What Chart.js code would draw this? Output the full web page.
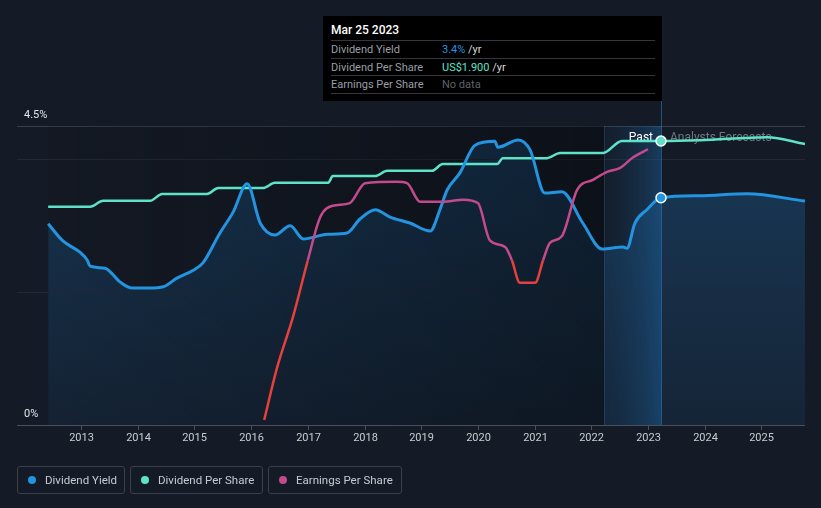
<!DOCTYPE html>
<html>
<head>
<meta charset="utf-8">
<script src="https://cdn.jsdelivr.net/npm/chart.js@4.4.0/dist/chart.umd.min.js"></script>
<style>
  body { margin: 0; background: #151b26; font-family: Roboto, "Noto Sans", sans-serif; }
  #wrap { position: relative; width: 821px; height: 508px; overflow: hidden; }
  #chart { position: absolute; left: 0; top: 0; }
  #tip { position: absolute; left: 323px; top: 16px; width: 339px; height: 85px; background: #000; }
  #tip .t { position: absolute; left: 8px; top: 7px; color: #fff; font-size: 12px; font-weight: 500; }
  #tip .r { position: absolute; left: 8px; width: 324px; height: 17px; border-top: 1px solid #33363c; font-size: 11px; line-height: 17px; color: #9a9fa6; }
  #tip .r .v { position: absolute; left: 111px; top: 0; color: #d8d8d8; }
  #legend { position: absolute; top: 466px; left: 17px; }
  .lg { position: absolute; top: 0; height: 26px; box-sizing: border-box; height: 28px; border: 1px solid #3b414b; border-radius: 3px; display: flex; align-items: center; padding-left: 10px; color: #c7cbd1; font-size: 11.5px; white-space: nowrap; }
  .lg i { width: 8px; height: 8px; border-radius: 50%; display: inline-block; margin-right: 9px; flex: none; }
</style>
</head>
<body>
<div id="wrap">
  <canvas id="chart" width="821" height="508"></canvas>
  <div id="tip">
    <div class="t">Mar 25 2023</div>
    <div class="r" style="top:24px">Dividend Yield<span class="v"><span style="color:#2394e0">3.4%</span> /yr</span></div>
    <div class="r" style="top:42px">Dividend Per Share<span class="v"><span style="color:#5ee3c9">US$1.900</span> /yr</span></div>
    <div class="r" style="top:59px;border-bottom:1px solid #33363c">Earnings Per Share<span class="v" style="color:#5f636a">No data</span></div>
  </div>
  <div id="legend">
    <div class="lg" style="left:0;width:108px"><i style="background:#2394e0"></i>Dividend Yield</div>
    <div class="lg" style="left:113px;width:133px"><i style="background:#5ee3c9"></i>Dividend Per Share</div>
    <div class="lg" style="left:251px;width:134px"><i style="background:#c44a8e"></i>Earnings Per Share</div>
  </div>
</div>
<script>
// Dividend yield (%), past and forecast
const yieldYears = [2012.42, 2012.68, 2012.98, 2013.11, 2013.16, 2013.42, 2013.69, 2013.90, 2014.22, 2014.45, 2014.69, 2014.98,
  2015.15, 2015.45, 2015.68, 2015.93, 2016.16, 2016.42, 2016.69, 2016.92, 2017.34, 2017.69, 2017.92, 2018.19, 2018.45,
  2018.80, 2019.16, 2019.33, 2019.46, 2019.68, 2019.95, 2020.30, 2020.35, 2020.71, 2020.92, 2021.18, 2021.48, 2021.85,
  2022.19, 2022.56, 2022.63, 2022.77, 2022.98, 2023.23, 2023.92, 2024.75, 2025.77];
const yieldValues = [3.03, 2.77, 2.60, 2.48, 2.39, 2.36, 2.15, 2.06, 2.06, 2.08, 2.21, 2.33,
  2.44, 2.89, 3.20, 3.63, 3.04, 2.86, 3.00, 2.80, 2.87, 2.89, 3.10, 3.24, 3.13,
  3.04, 2.92, 3.24, 3.54, 3.79, 4.21, 4.27, 4.18, 4.29, 4.14, 3.49, 3.51, 3.04,
  2.65, 2.68, 2.66, 3.04, 3.24, 3.42, 3.45, 3.48, 3.37];

// Dividend per share (US$)
const dpsYears = [2012.42, 2013.16, 2013.39, 2014.22, 2014.43, 2015.22, 2015.42, 2016.21, 2016.42, 2017.36, 2017.44,
  2018.19, 2018.40, 2019.19, 2019.38, 2020.34, 2020.44, 2021.22, 2021.45, 2022.21, 2022.54, 2023.23, 2023.92, 2025.10, 2025.77];
const dpsValues = [1.46, 1.46, 1.50, 1.50, 1.545, 1.545, 1.585, 1.585, 1.62, 1.62, 1.665,
  1.665, 1.70, 1.70, 1.745, 1.745, 1.785, 1.785, 1.82, 1.82, 1.90, 1.90, 1.905, 1.925, 1.88];

// Earnings per share (chart units)
const epsYears = [2016.23, 2016.46, 2016.74, 2017.00, 2017.22, 2017.44, 2017.74, 2018.01, 2018.57, 2018.75, 2018.98,
  2019.38, 2019.74, 2020.00, 2020.21, 2020.48, 2020.60, 2020.74, 2021.01, 2021.15, 2021.27, 2021.48, 2021.75,
  2022.03, 2022.28, 2022.51, 2022.74, 2023.00];
const epsValues = [0.075, 0.87, 1.63, 2.48, 3.13, 3.30, 3.34, 3.64, 3.66, 3.64, 3.36,
  3.36, 3.39, 3.34, 2.78, 2.68, 2.48, 2.14, 2.14, 2.48, 2.74, 2.84, 3.54,
  3.69, 3.81, 3.87, 4.03, 4.15];
const epsRedBelow = 2.5;

const yearTicks = [2013, 2014, 2015, 2016, 2017, 2018, 2019, 2020, 2021, 2022, 2023, 2024, 2025];
const yieldTicks = [0, 4.5];
const gridLines = [2.0, 4.0, 4.5];
const pastStart = 2022.23;
const today = 2023.23;

const toXY = (xs, ys) => xs.map((x, i) => ({ x: x, y: ys[i] }));

const overlayPlugin = {
  id: 'overlay',
  beforeDatasetsDraw(chart) {
    const { ctx, chartArea, scales } = chart;
    const x = scales.x, y = scales.y;
    const top = chartArea.top, bottom = chartArea.bottom;
    // grid lines
    gridLines.forEach(v => {
      const py = Math.round(y.getPixelForValue(v)) + 0.5;
      ctx.strokeStyle = v === 4.5 ? '#3a3f49' : '#242a34';
      ctx.lineWidth = 1;
      ctx.beginPath(); ctx.moveTo(chartArea.left, py); ctx.lineTo(chartArea.right, py); ctx.stroke();
    });
    // darkened past
    const x0 = x.getPixelForValue(yieldYears[0]);
    const x1 = x.getPixelForValue(pastStart);
    const x2 = x.getPixelForValue(today);
    let g = ctx.createLinearGradient(x0, 0, x1, 0);
    g.addColorStop(0, 'rgba(4,6,10,0.08)');
    g.addColorStop(1, 'rgba(4,6,10,0.45)');
    ctx.fillStyle = g;
    ctx.fillRect(x0, top, x1 - x0, bottom - top);
    // past year band
    g = ctx.createLinearGradient(x1, 0, x2, 0);
    g.addColorStop(0, 'rgba(20,60,100,0.10)');
    g.addColorStop(1, 'rgba(28,100,160,0.45)');
    ctx.fillStyle = g;
    ctx.fillRect(x1, top, x2 - x1, bottom - top);
    ctx.strokeStyle = 'rgba(60,110,150,0.35)';
    ctx.beginPath(); ctx.moveTo(Math.round(x1) + 0.5, top); ctx.lineTo(Math.round(x1) + 0.5, bottom); ctx.stroke();
    // today line
    ctx.strokeStyle = 'rgba(50,130,200,0.55)';
    ctx.beginPath(); ctx.moveTo(Math.round(x2) + 0.5, 101); ctx.lineTo(Math.round(x2) + 0.5, bottom); ctx.stroke();
    // past / forecast labels (lines pass over them)
    const yt = scales.yDps.getPixelForValue(dpsValues[dpsYears.indexOf(today)]);
    ctx.font = '12px Roboto';
    ctx.textBaseline = 'middle';
    ctx.textAlign = 'right';
    ctx.fillStyle = '#ffffff';
    ctx.fillText('Past', x2 - 8, yt - 3);
    ctx.textAlign = 'left';
    ctx.fillStyle = 'rgba(150,156,165,0.7)';
    ctx.fillText('Analysts Forecasts', x2 + 9, yt - 3);
  },
  afterDatasetsDraw(chart) {
    const { ctx, chartArea, scales } = chart;
    const x = scales.x, y = scales.y;
    // x axis
    ctx.strokeStyle = '#4a505a';
    ctx.lineWidth = 1;
    ctx.beginPath(); ctx.moveTo(chartArea.left, chartArea.bottom + 0.5); ctx.lineTo(chartArea.right, chartArea.bottom + 0.5); ctx.stroke();
    ctx.font = '11px Roboto';
    ctx.fillStyle = '#c9ccd1';
    ctx.textAlign = 'center';
    ctx.textBaseline = 'middle';
    yearTicks.forEach(t => {
      const px = Math.round(x.getPixelForValue(t)) + 0.5;
      ctx.beginPath(); ctx.moveTo(px, chartArea.bottom); ctx.lineTo(px, chartArea.bottom + 5); ctx.stroke();
      ctx.fillText(String(t), px, chartArea.bottom + 13);
    });
    // y labels
    ctx.textAlign = 'left';
    ctx.textBaseline = 'alphabetic';
    ctx.fillStyle = '#e2e4e7';
    yieldTicks.forEach(v => {
      ctx.fillText(v + '%', 24, y.getPixelForValue(v) - 8);
    });
  }
};

const ctx = document.getElementById('chart').getContext('2d');
new Chart(ctx, {
  type: 'line',
  data: {
    datasets: [
      {
        label: 'Earnings Per Share',
        data: toXY(epsYears, epsValues),
        yAxisID: 'yEps',
        borderColor: '#c44a8e',
        borderWidth: 2.5,
        pointRadius: 0,
        cubicInterpolationMode: 'monotone',
        segment: {
          borderColor: c => ((c.p0.parsed.y + c.p1.parsed.y) / 2 < epsRedBelow ? '#e8403d' : '#c44a8e')
        },
        fill: false
      },
      {
        label: 'Dividend Yield',
        data: toXY(yieldYears, yieldValues),
        yAxisID: 'y',
        borderColor: '#2394e0',
        borderWidth: 3,
        cubicInterpolationMode: 'monotone',
        pointRadius: c => (c.raw && c.raw.x === today ? 5 : 0),
        pointBackgroundColor: '#2394e0',
        pointBorderColor: '#ffffff',
        pointBorderWidth: 1.5,
        fill: 'origin',
        backgroundColor: c => {
          const ca = c.chart.chartArea;
          if (!ca) return 'rgba(30,110,170,0.25)';
          const g = c.chart.ctx.createLinearGradient(0, ca.top, 0, ca.bottom);
          g.addColorStop(0, 'rgba(30,110,175,0.38)');
          g.addColorStop(1, 'rgba(30,100,160,0.14)');
          return g;
        }
      },
      {
        label: 'Dividend Per Share',
        data: toXY(dpsYears, dpsValues),
        yAxisID: 'yDps',
        borderColor: '#5ee3c9',
        borderWidth: 2.5,
        cubicInterpolationMode: 'monotone',
        pointRadius: c => (c.raw && c.raw.x === today ? 5 : 0),
        pointBackgroundColor: '#5ee3c9',
        pointBorderColor: '#ffffff',
        pointBorderWidth: 1.5,
        fill: false
      }
    ]
  },
  options: {
    responsive: false,
    animation: false,
    events: [],
    layout: { padding: { left: 17, right: 16, top: 126, bottom: 83 } },
    scales: {
      x: { type: 'linear', min: 2011.87, max: 2025.77, display: false },
      y: { min: 0, max: 4.5, display: false },
      yDps: { min: 0, max: 2.0, display: false },
      yEps: { min: 0, max: 4.5, display: false }
    },
    plugins: {
      legend: { display: false },
      tooltip: { enabled: false },
      filler: { drawTime: 'beforeDatasetsDraw' }
    }
  },
  plugins: [overlayPlugin]
});
</script>
</body>
</html>
